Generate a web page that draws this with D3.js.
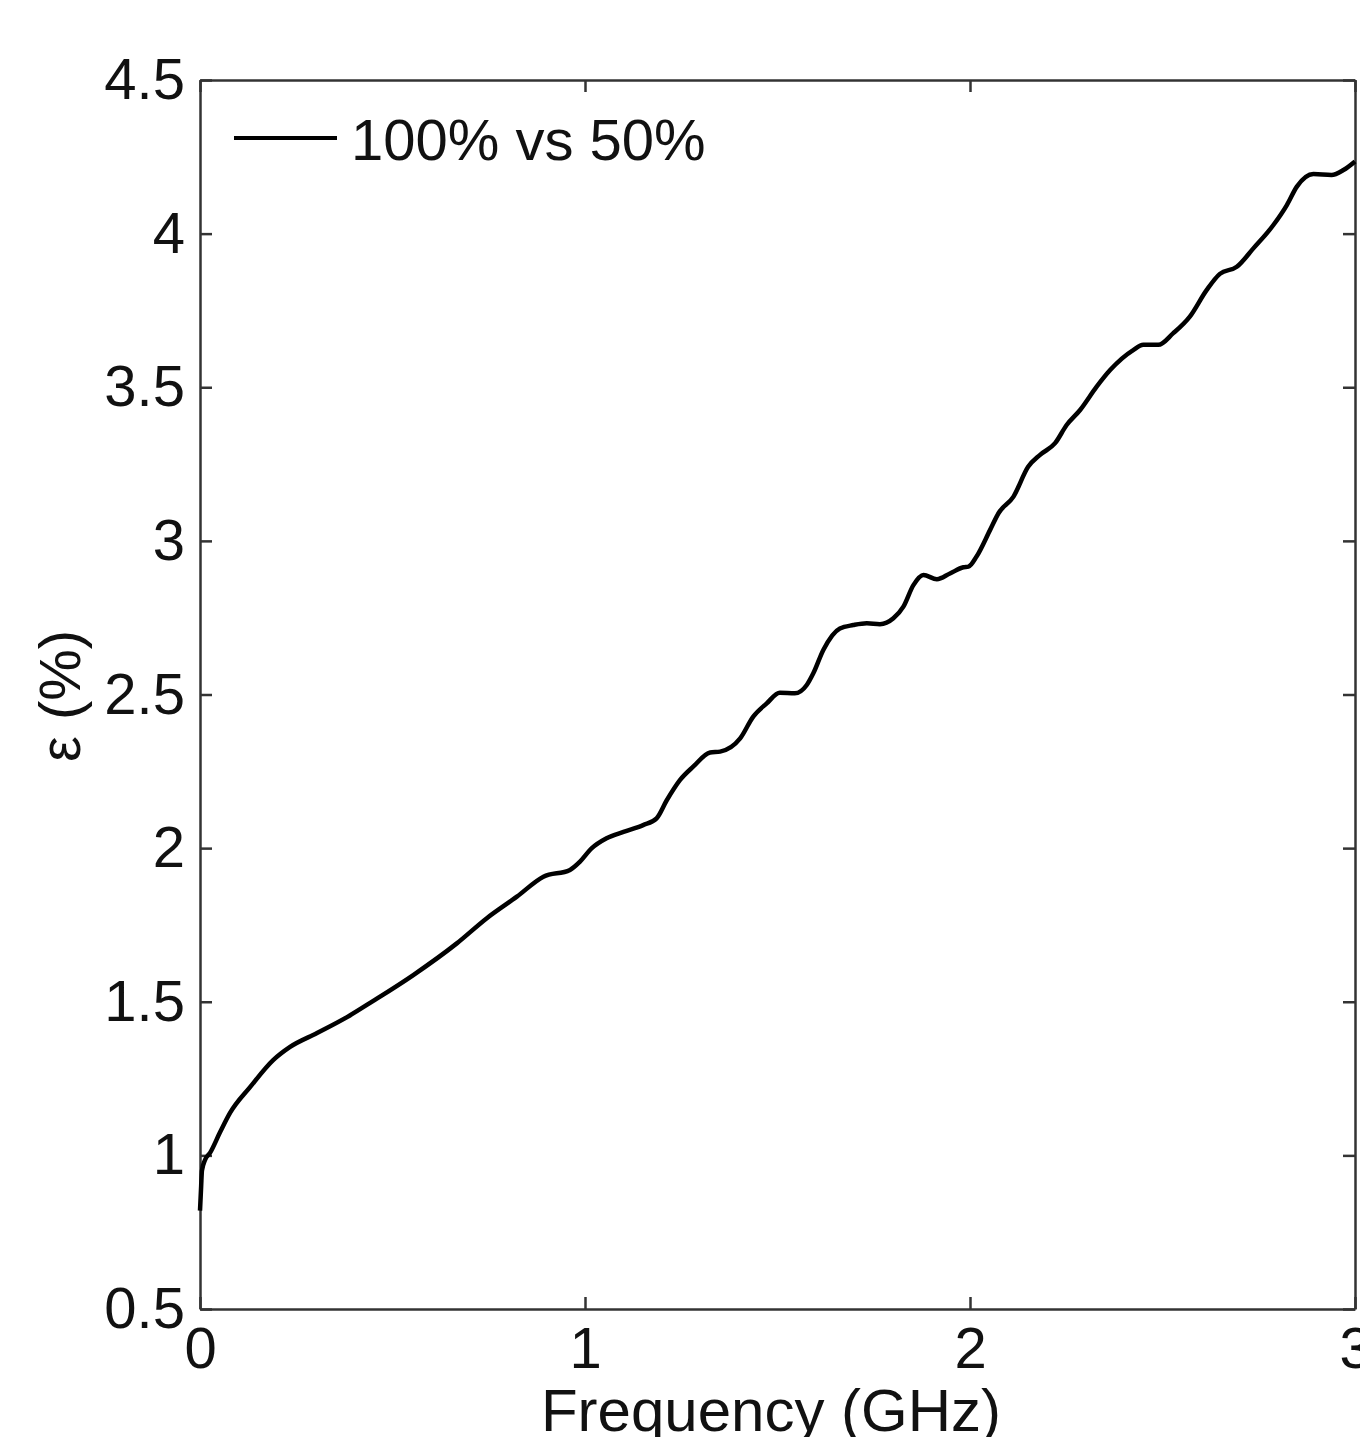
<!DOCTYPE html>
<html>
<head>
<meta charset="utf-8">
<script src="https://cdn.jsdelivr.net/npm/d3@7"></script>
<style>
  body { margin: 0; background: #fff; overflow: hidden; }
  svg { display: block; font-family: "Liberation Sans", Arial, sans-serif; }
</style>
</head>
<body>
<div id="chart"></div>
<script>
// values
var freq = [0, 0.003, 0.005, 0.013, 0.026, 0.052, 0.078, 0.13, 0.19, 0.234, 0.304, 0.382, 0.449,
  0.554, 0.667, 0.745, 0.823, 0.892, 0.961, 0.987, 1.017, 1.056, 1.10, 1.151, 1.186, 1.212,
  1.247, 1.281, 1.325, 1.351, 1.403, 1.437, 1.472, 1.506, 1.545, 1.576, 1.593, 1.619, 1.662,
  1.697, 1.732, 1.766, 1.801, 1.827, 1.853, 1.879, 1.914, 1.948, 1.983, 1.996, 2.017, 2.052,
  2.074, 2.113, 2.151, 2.182, 2.221, 2.251, 2.286, 2.329, 2.364, 2.424, 2.45, 2.489, 2.528,
  2.571, 2.615, 2.649, 2.693, 2.736, 2.788, 2.823, 2.849, 2.892, 2.939, 2.97, 3.0];
var eps = [0.82, 0.90, 0.95, 0.985, 1.008, 1.075, 1.138, 1.222, 1.31, 1.353, 1.398, 1.45, 1.502,
  1.587, 1.69, 1.772, 1.842, 1.907, 1.929, 1.956, 1.999, 2.032, 2.053, 2.075, 2.097, 2.155,
  2.222, 2.265, 2.311, 2.314, 2.357, 2.428, 2.471, 2.506, 2.504, 2.531, 2.569, 2.645, 2.715,
  2.726, 2.732, 2.729, 2.748, 2.786, 2.856, 2.889, 2.875, 2.894, 2.914, 2.916, 2.949, 3.035,
  3.09, 3.144, 3.241, 3.28, 3.318, 3.377, 3.426, 3.502, 3.556, 3.621, 3.638, 3.638, 3.676,
  3.73, 3.817, 3.869, 3.892, 3.952, 4.028, 4.093, 4.153, 4.194, 4.191, 4.207, 4.235];
var xTicks = [0, 1, 2, 3];
var yTicks = [0.5, 1, 1.5, 2, 2.5, 3, 3.5, 4, 4.5];
var seriesName = "100% vs 50%";

var margin = {top: 80, right: 5, bottom: 128, left: 200},
    width = 1360 - margin.left - margin.right,
    height = 1437 - margin.top - margin.bottom;

var svg = d3.select("#chart")
  .append("svg")
    .attr("width", 1360)
    .attr("height", 1437)
  .append("g")
    .attr("transform", "translate(" + margin.left + "," + margin.top + ")");

var x = d3.scaleLinear().domain([0, 3]).range([0, width]);
var y = d3.scaleLinear().domain([0.5, 4.5]).range([height, 0]);

var fmt = function(d) { return String(d); };

// bottom + left axes carry the labels, top + right just the inward ticks
svg.append("g")
  .attr("class", "axis")
  .attr("transform", "translate(0," + height + ")")
  .call(d3.axisBottom(x).tickValues(xTicks).tickFormat(fmt)
    .tickSizeInner(-12).tickSizeOuter(0).tickPadding(18));

svg.append("g")
  .attr("class", "axis")
  .call(d3.axisLeft(y).tickValues(yTicks).tickFormat(fmt)
    .tickSizeInner(-12).tickSizeOuter(0).tickPadding(15));

svg.append("g")
  .attr("class", "axis")
  .call(d3.axisTop(x).tickValues(xTicks).tickFormat("")
    .tickSizeInner(-12).tickSizeOuter(0));

svg.append("g")
  .attr("class", "axis")
  .attr("transform", "translate(" + width + ",0)")
  .call(d3.axisRight(y).tickValues(yTicks).tickFormat("")
    .tickSizeInner(-12).tickSizeOuter(0));

svg.selectAll(".axis path, .axis line")
  .attr("stroke", "#333")
  .attr("stroke-width", 2.5);
svg.selectAll(".axis text")
  .attr("fill", "#111")
  .style("font-family", "'Liberation Sans', Arial, sans-serif")
  .style("font-size", "58px");

var data = freq.map(function(f, i) { return {f: f, e: eps[i]}; });

var line = d3.line()
  .x(function(d) { return x(d.f); })
  .y(function(d) { return y(d.e); })
  .curve(d3.curveMonotoneX);

svg.append("path")
  .datum(data)
  .attr("fill", "none")
  .attr("stroke", "#000")
  .attr("stroke-width", 4.5)
  .attr("stroke-linejoin", "round")
  .attr("d", line);

// legend (no box)
svg.append("line")
  .attr("x1", 34).attr("x2", 137)
  .attr("y1", 58).attr("y2", 58)
  .attr("stroke", "#000")
  .attr("stroke-width", 4);
svg.append("text")
  .attr("x", 151).attr("y", 80)
  .style("font-size", "58px")
  .attr("fill", "#111")
  .text(seriesName);

// axis titles
svg.append("text")
  .attr("x", 571)
  .attr("y", height + 122)
  .attr("text-anchor", "middle")
  .style("font-size", "60px")
  .attr("fill", "#111")
  .text("Frequency (GHz)");

svg.append("text")
  .attr("transform", "translate(" + (80 - margin.left) + "," + (696 - margin.top) + ") rotate(-90)")
  .attr("text-anchor", "middle")
  .style("font-size", "58px")
  .attr("fill", "#111")
  .text("ε (%)");
</script>
</body>
</html>
